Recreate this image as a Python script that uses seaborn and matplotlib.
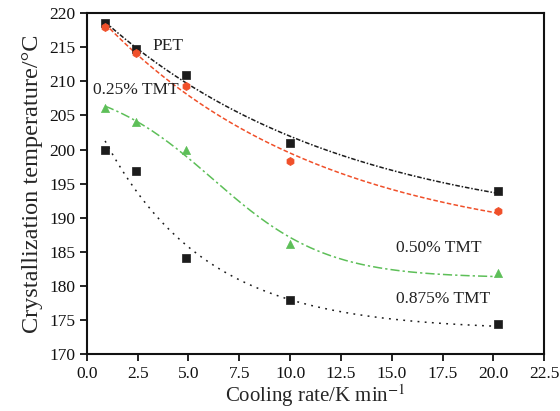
import numpy as np
import pandas as pd
import matplotlib
matplotlib.use("Agg")
import matplotlib.pyplot as plt
import seaborn as sns

# Cooling rates (K/min) and crystallization temperatures (°C)
rate = [0.9, 2.4, 4.9, 10.0, 20.2]
pet = [218.5, 214.7, 211.0, 200.9, 193.9]
tmt_025 = [218.0, 214.2, 209.3, 198.4, 191.0]
tmt_050 = [206.1, 204.0, 200.0, 186.1, 181.9]
tmt_0875 = [200.0, 196.9, 184.1, 178.0, 174.4]

series_names = ["PET", "0.25% TMT", "0.50% TMT", "0.875% TMT"]
series_vals = [pet, tmt_025, tmt_050, tmt_0875]
colors = ["#1c1c1c", "#f0502a", "#5dbf58", "#1c1c1c"]
markers = ["s", "h", "^", "s"]
marker_sizes = [26, 34, 34, 26]
dashes = [(0, (3, 1.2, 1, 1.2)), (0, (3, 1.5)), (0, (6, 2, 1.5, 2)), (0, (1.2, 3.5))]
fit_kind = ["exp", "exp", "logistic", "exp"]
label_pos = [(4.0, 215.2), (2.4, 208.8), (17.3, 185.6), (17.5, 178.1)]

xticks = [0.0, 2.5, 5.0, 7.5, 10.0, 12.5, 15.0, 17.5, 20.0, 22.5]
yticks = list(range(170, 221, 5))


def _best_linear(x, y, basis_list):
    best = None
    for b in basis_list:
        A = np.column_stack([np.ones_like(x), b(x)])
        coef, *_ = np.linalg.lstsq(A, y, rcond=None)
        err = np.sum((A @ coef - y) ** 2)
        if best is None or err < best[0]:
            best = (err, b, coef)
    return best[1], best[2]


def fit_curve(x, y, kind, xs):
    """Smooth least-squares trend curve through the measured points."""
    x = np.asarray(x, float)
    y = np.asarray(y, float)
    if kind == "exp":
        bases = [(lambda t, k=k: np.exp(-k * t))
                 for k in np.linspace(0.01, 1.5, 400)]
    else:
        # gentle sigmoid: keep the transition width broad
        bases = [(lambda t, c=c, w=w: 1.0 / (1.0 + np.exp((t - c) / w)))
                 for c in np.linspace(-6, 14, 101) for w in np.linspace(2.8, 8, 53)]
    b, coef = _best_linear(x, y, bases)
    return coef[0] + coef[1] * b(xs)


sns.set_style("ticks")
plt.rcParams["font.family"] = ["Liberation Serif", "DejaVu Serif"]
plt.rcParams["mathtext.fontset"] = "stix"

fig = plt.figure(figsize=(5.6, 4.11), dpi=100)
ax = fig.add_axes([0.155, 0.138, 0.817, 0.83])

for name, vals, c, m, ms, d, kind, pos in zip(series_names, series_vals, colors,
                                               markers, marker_sizes, dashes,
                                               fit_kind, label_pos):
    xs = np.linspace(rate[0], rate[-1], 200)
    curve = pd.DataFrame({"x": xs, "y": fit_curve(rate, vals, kind, xs)})
    sns.lineplot(data=curve, x="x", y="y", ax=ax, color=c, lw=1.1,
                 linestyle=d, legend=False)
    pts = pd.DataFrame({"x": rate, "y": vals})
    sns.scatterplot(data=pts, x="x", y="y", ax=ax, color=c, marker=m,
                    s=ms, edgecolor=c, linewidth=0.5, legend=False, zorder=3)
    ax.text(pos[0], pos[1], name, fontsize=12.5, ha="center", va="center",
            color="#222222")

ax.set_xlim(0, 22.5)
ax.set_ylim(170, 220)
ax.set_xticks(xticks)
ax.set_xticklabels([f"{t:.1f}" for t in xticks])
ax.set_yticks(yticks)
ax.tick_params(axis="both", labelsize=12.5, direction="out", length=5,
               width=1.3, colors="#111111", top=False, right=False)
for sp in ax.spines.values():
    sp.set_linewidth(1.5)
    sp.set_color("#111111")

ax.set_xlabel("Cooling rate/K min$^{-1}$", fontsize=15, labelpad=0)
ax.set_ylabel("Crystallization temperature/°C", fontsize=17.5, labelpad=4)

fig.savefig("out.png", dpi=100)
